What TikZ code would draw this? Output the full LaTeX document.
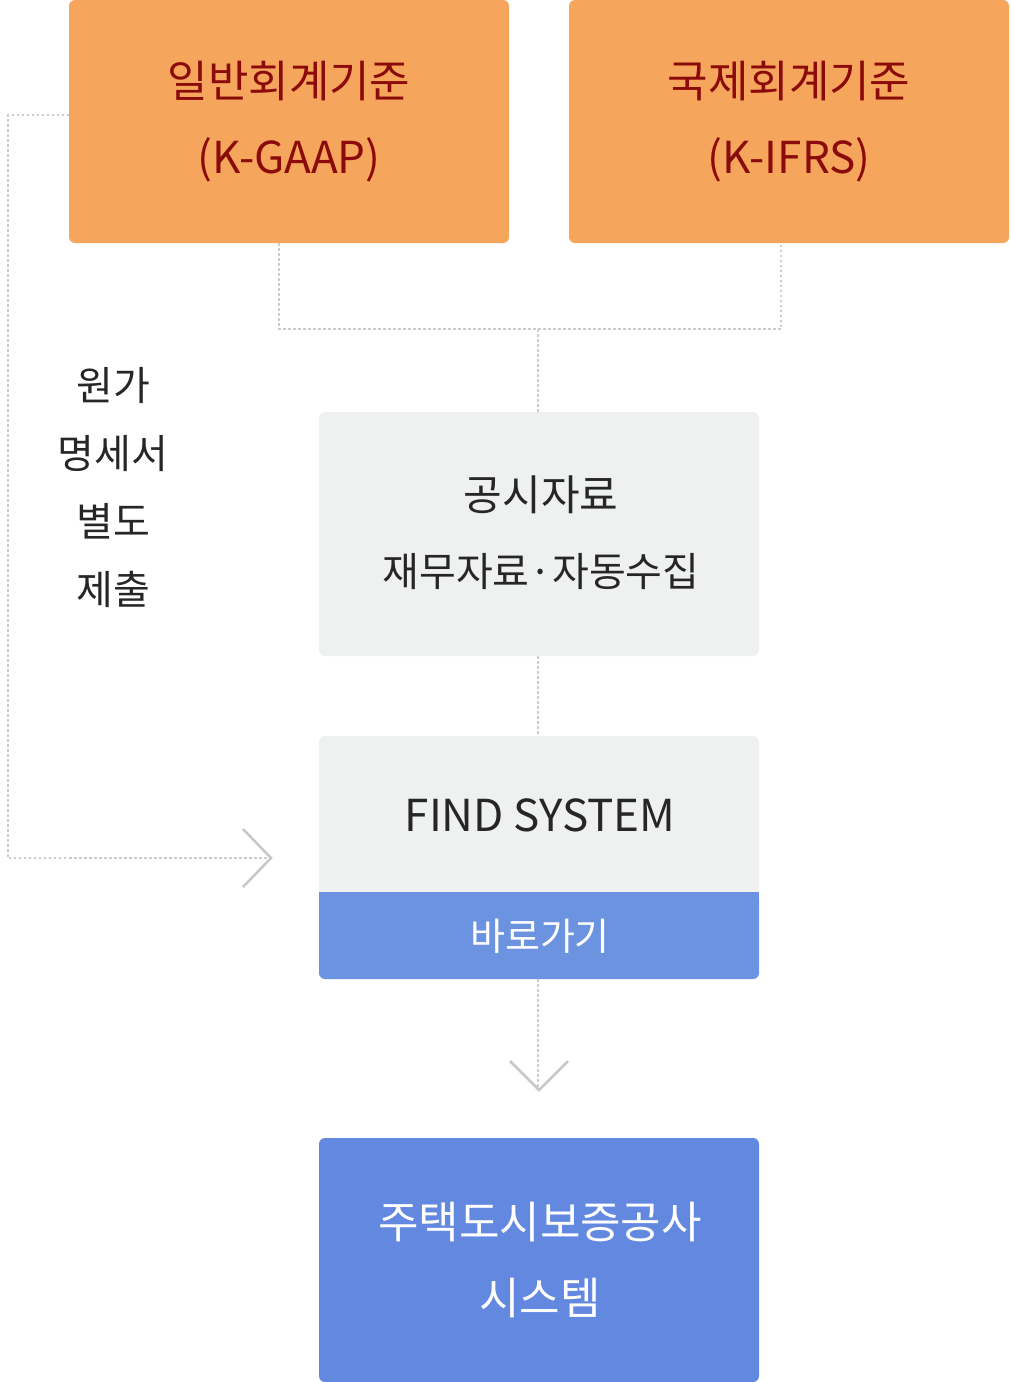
\documentclass[tikz,border=0pt]{standalone}
\usepackage{fontspec}
\setmainfont{Noto Sans CJK KR}
\begin{document}
\begin{tikzpicture}[x=1pt,y=-1pt,
  box/.style={rounded corners=6pt,draw=none},
  dot/.style={draw=black!20,line width=2.5pt,dash pattern=on 2.5pt off 2.5pt},
  chev/.style={draw=black!22,line width=2.5pt}]
\definecolor{org}{HTML}{F5A65C}
\definecolor{dred}{HTML}{8B0A0A}
\definecolor{lgray}{HTML}{EFF0F0}
\definecolor{blu}{HTML}{6C93E0}
\definecolor{blu2}{HTML}{6388E0}
\useasboundingbox (0,0) rectangle (1010,1382);
% connectors
\coordinate (j1) at (279,329); \coordinate (j2) at (781,329); \coordinate (j3) at (538,329);
\coordinate (l1) at (8,115); \coordinate (l2) at (8,858); \coordinate (l3) at (268,858);
\coordinate (d1) at (538,1088);
\draw[dot] (279,243) -- (j1) -- (j2) -- (781,243);
\draw[dot] (j3) -- (538,412);
\draw[dot] (538,656) -- (538,736);
\draw[dot] (538,979) -- (d1);
\draw[dot] (69,115) -- (l1) -- (l2) -- (l3);
\draw[chev] (243,829) -- (271,858) -- (243,887);
\draw[chev] (510,1061) -- (539,1090) -- (568,1061);
% boxes
\fill[org,box] (69,0) rectangle (509,243);
\fill[org,box] (569,0) rectangle (1009,243);
\node[align=center,text=dred,font=\fontsize{44}{76}\selectfont] (a) at (289,122) {일반회계기준\\(K-GAAP)};
\node[align=center,text=dred,font=\fontsize{44}{76}\selectfont] (b) at (789,122) {국제회계기준\\(K-IFRS)};
\fill[lgray,box] (319,412) rectangle (759,656);
\node[text=black!85,font=\fontsize{42}{50}\selectfont] (c) at (541,495) {공시자료};
\node[text=black!85,font=\fontsize{40}{50}\selectfont] (c2) at (541,572) {재무자료·자동수집};
\fill[lgray,box] (319,736) rectangle (759,979);
\fill[blu,rounded corners=6pt] (319,892) rectangle (759,979);
\fill[blu] (319,892) rectangle (759,920);
\node[text=black!85,font=\fontsize{44}{50}\selectfont] (f) at (540,815) {FIND SYSTEM};
\node[text=white,font=\fontsize{38}{50}\selectfont] (g) at (540,936) {바로가기};
\fill[blu2,box] (319,1138) rectangle (759,1382);
\node[align=center,text=white,font=\fontsize{44}{76}\selectfont] (h) at (540,1260) {주택도시보증공사\\시스템};
\node[align=center,text=black!85,font=\fontsize{40}{68}\selectfont] (t) at (113,488) {원가\\명세서\\별도\\제출};
\end{tikzpicture}
\end{document}
